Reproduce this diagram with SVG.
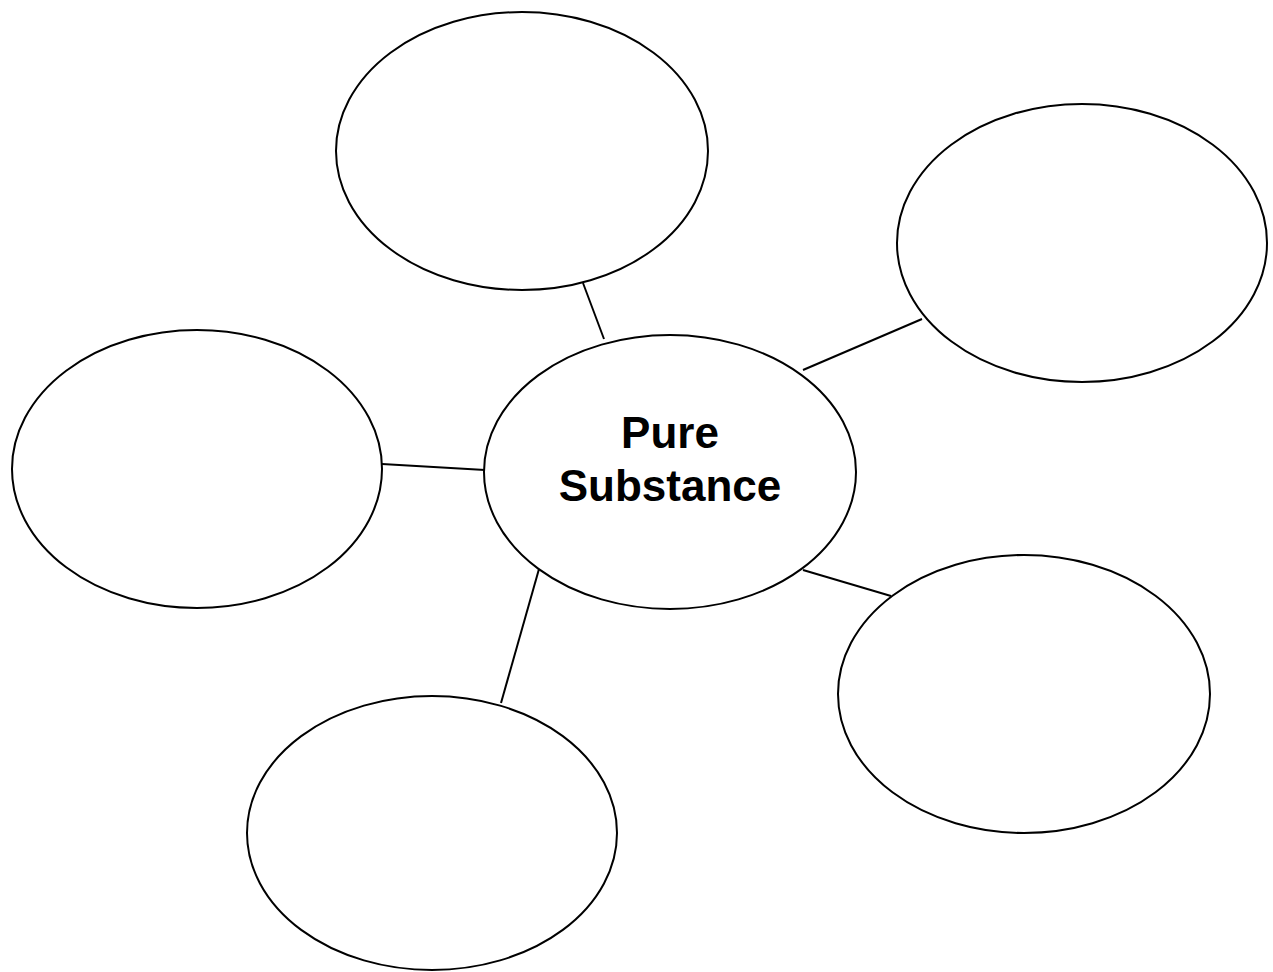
<svg xmlns="http://www.w3.org/2000/svg" width="1273" height="972" viewBox="0 0 1273 972">
<style>
.n{fill:#fff;stroke:#000;stroke-width:2}
.c line{stroke:#000;stroke-width:2}
.t{font-family:"Liberation Sans",Arial,sans-serif;font-weight:bold;font-size:44px;fill:#000;text-anchor:middle}
</style>
<rect width="1273" height="972" fill="#fff"/>
<g class="c" id="connectors">
<line x1="583" y1="283" x2="604" y2="339"/>
<line x1="803" y1="370" x2="922" y2="319"/>
<line x1="382" y1="464" x2="485" y2="470"/>
<line x1="803" y1="570" x2="891" y2="596"/>
<line x1="539" y1="569" x2="501" y2="703"/>
</g>
<g id="center"><ellipse class="n" cx="670" cy="472" rx="186" ry="137"/>
<text class="t" x="670" y="448">Pure</text><text class="t" x="670" y="501">Substance</text></g>
<g id="top"><ellipse class="n" cx="522" cy="151" rx="186" ry="139"/></g>
<g id="rightTop"><ellipse class="n" cx="1082" cy="243" rx="185" ry="139"/></g>
<g id="left"><ellipse class="n" cx="197" cy="469" rx="185" ry="139"/></g>
<g id="rightBottom"><ellipse class="n" cx="1024" cy="694" rx="186" ry="139"/></g>
<g id="bottom"><ellipse class="n" cx="432" cy="833" rx="185" ry="137"/></g>
</svg>
